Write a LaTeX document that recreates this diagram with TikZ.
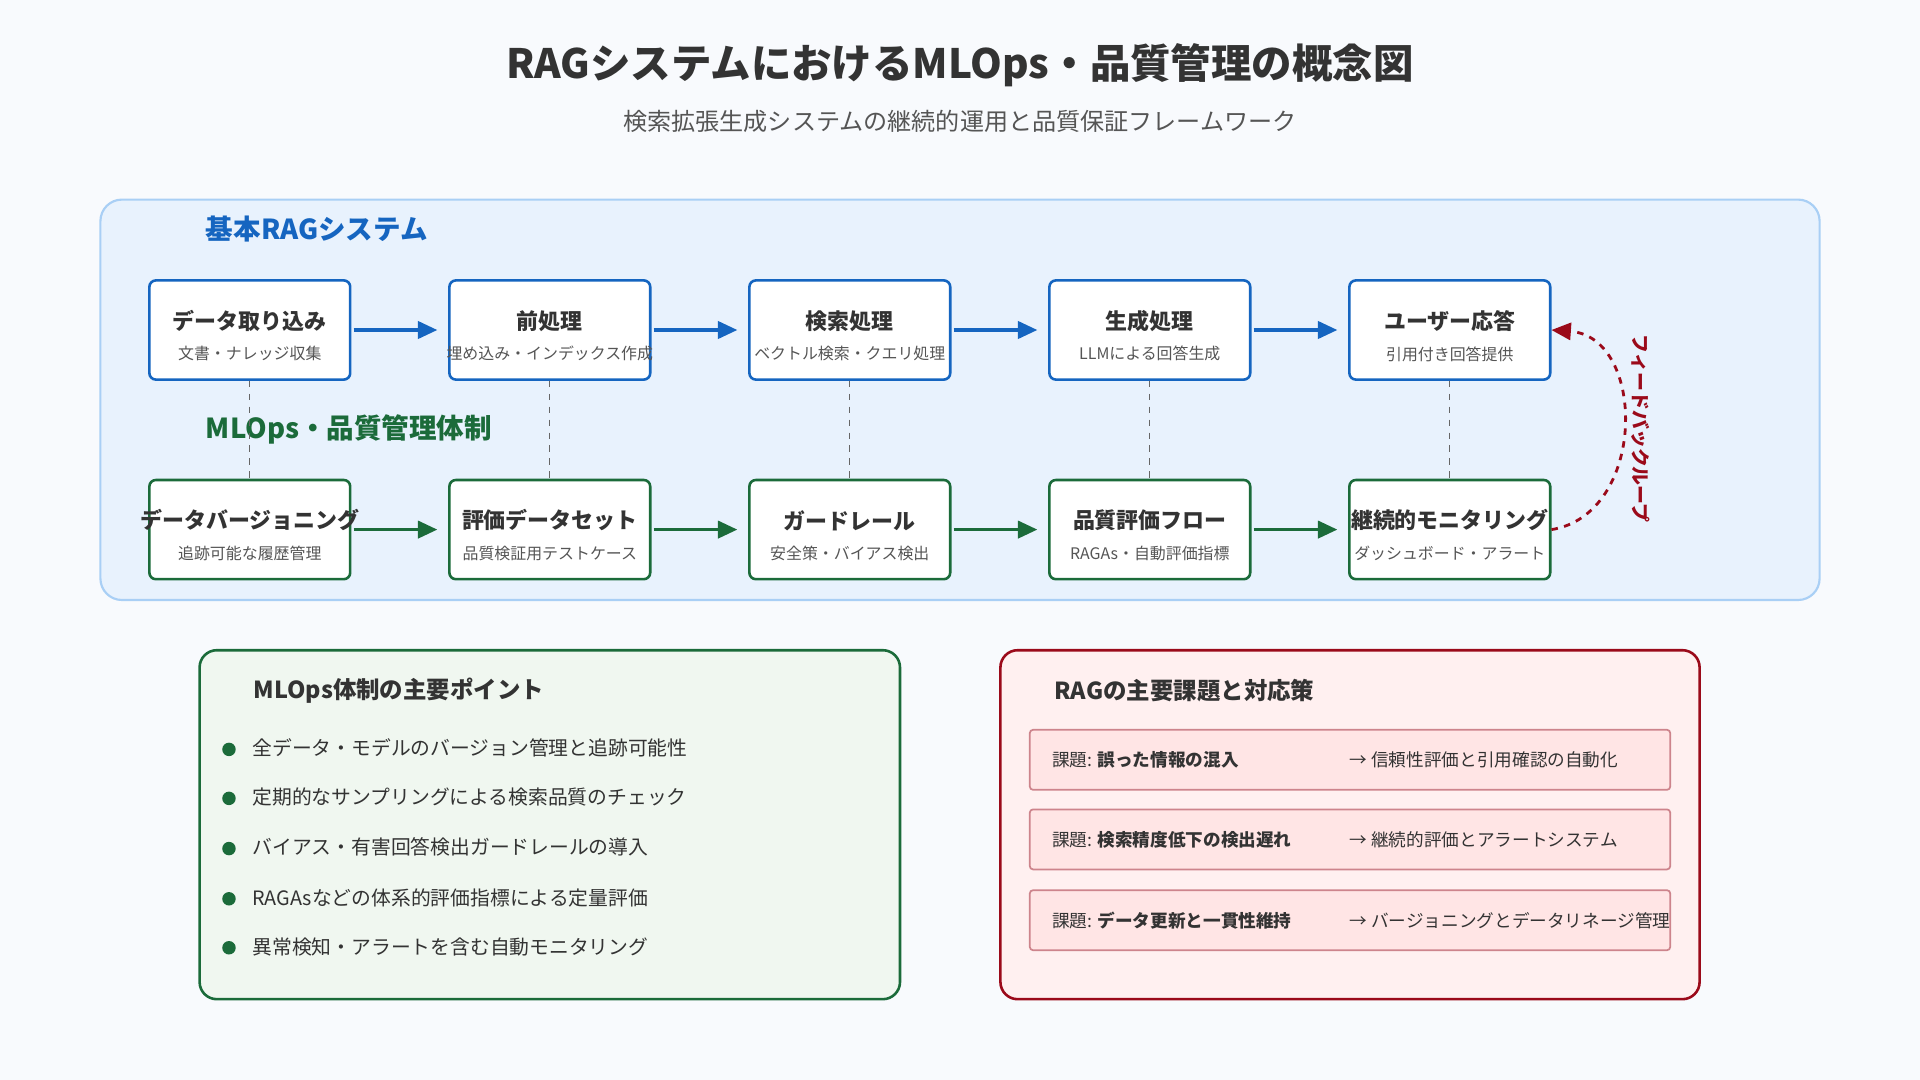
\documentclass[tikz,border=0pt]{standalone}
\usepackage{fontspec}
\setmainfont{Noto Sans CJK JP}
\usetikzlibrary{arrows.meta}
\definecolor{bblue}{HTML}{1565C0}
\definecolor{ggreen}{HTML}{1B6B3A}
\definecolor{rred}{HTML}{9B0A1A}
\definecolor{panel}{HTML}{E8F2FD}
\definecolor{panelb}{HTML}{A9CFF5}
\definecolor{txt}{HTML}{333333}
\definecolor{sub}{HTML}{555555}
\definecolor{bg}{HTML}{F8FAFD}
\definecolor{gfill}{HTML}{F0F7F0}
\definecolor{rfill}{HTML}{FFF0F0}
\begin{document}
\begin{tikzpicture}[x=0.02cm,y=-0.02cm,
 box/.style={draw=#1,line width=1.2pt,fill=white,rounded corners=3pt,minimum width=164*0.02cm,minimum height=81*0.02cm},
 bt/.style={font=\fontsize{10.2}{12}\selectfont\bfseries,text=txt},
 bs/.style={font=\fontsize{7.4}{9}\selectfont,text=sub},
 flow/.style={-{Triangle[length=9pt,width=8pt]},line width=1.5pt,draw=#1,shorten >=5pt,shorten <=1pt},
 vd/.style={dashed,draw=gray!80!black,line width=0.6pt},
 bul/.style={font=\fontsize{9.2}{11}\selectfont,text=txt,anchor=west},
 item/.style={draw=rred!50,fill=red!10,line width=0.8pt,rounded corners=1.5pt},
 it/.style={font=\fontsize{8.2}{10}\selectfont,text=txt,anchor=west}]
\fill[bg] (0,0) rectangle (1568,882);
\useasboundingbox (0,0) rectangle (1568,882);
\node[font=\fontsize{18.8}{22}\selectfont\bfseries,text=txt] (title) at (784,53) {RAGシステムにおけるMLOps・品質管理の概念図};
\node[font=\fontsize{11.2}{13}\selectfont,text=sub] (subt) at (784,99) {検索拡張生成システムの継続的運用と品質保証フレームワーク};
\draw[fill=panel,draw=panelb,line width=1pt,rounded corners=10pt] (82,163) rectangle (1486,490);
\node[anchor=west,font=\fontsize{12.8}{14}\selectfont\bfseries,text=bblue] (h1) at (162,187) {基本RAGシステム};
\node[anchor=west,font=\fontsize{12.8}{14}\selectfont\bfseries,text=ggreen] (h2) at (162,351) {MLOps・品質管理体制};
\foreach \n/\x/\a/\b in {t1/204/データ取り込み/文書・ナレッジ収集, t2/449/前処理/埋め込み・インデックス作成, t3/694/検索処理/ベクトル検索・クエリ処理, t4/939/生成処理/LLMによる回答生成, t5/1184/ユーザー応答/引用付き回答提供}{
 \node[box=bblue] (\n) at (\x,269.5) {};
 \node[bt] at (\x,262) {\a};
 \node[bs] at (\x,289) {\b};}
\foreach \n/\x/\a/\b in {b1/204/データバージョニング/追跡可能な履歴管理, b2/449/評価データセット/品質検証用テストケース, b3/694/ガードレール/安全策・バイアス検出, b4/939/品質評価フロー/RAGAs・自動評価指標, b5/1184/継続的モニタリング/ダッシュボード・アラート}{
 \node[box=ggreen] (\n) at (\x,432.5) {};
 \node[bt] at (\x,425) {\a};
 \node[bs] at (\x,452) {\b};}
\foreach \i/\j in {1/2,2/3,3/4,4/5}{
 \draw[flow=bblue] (t\i.east) -- (t\j.west);
 \draw[flow=ggreen] (b\i.east) -- (b\j.west);}
\foreach \i in {1,...,5}{\draw[vd] (t\i.south) -- (b\i.north);}
\draw[rred,dashed,line width=1.3pt,-{Triangle[length=9pt,width=8pt]}] (b5.east) .. controls (1345,420) and (1345,275) .. (t5.east);
\node[rotate=-90,font=\fontsize{8.8}{10}\selectfont\bfseries,text=rred] (fb) at (1340,350) {フィードバックループ};
\draw[fill=gfill,draw=ggreen,line width=1.2pt,rounded corners=8pt] (163,531) rectangle (735,816);
\node[anchor=west,font=\fontsize{10.9}{12}\selectfont\bfseries,text=txt] (g1) at (201,564) {MLOps体制の主要ポイント};
\foreach \y/\t in {611/全データ・モデルのバージョン管理と追跡可能性,651/定期的なサンプリングによる検索品質のチェック,692/バイアス・有害回答検出ガードレールの導入,733/RAGAsなどの体系的評価指標による定量評価,773/異常検知・アラートを含む自動モニタリング}{
 \fill[ggreen] (187,\y+1) circle (5.5);
 \node[bul] at (200,\y) {\t};}
\draw[fill=rfill,draw=rred,line width=1.2pt,rounded corners=8pt] (817,531) rectangle (1388,816);
\node[anchor=west,font=\fontsize{10.9}{12}\selectfont\bfseries,text=txt] (r1) at (855,564) {RAGの主要課題と対応策};
\foreach \y/\a/\b in {620.5/誤った情報の混入/信頼性評価と引用確認の自動化,685.5/検索精度低下の検出遅れ/継続的評価とアラートシステム,751.5/データ更新と一貫性維持/バージョニングとデータリネージ管理}{
 \draw[item] (841,\y-24.5) rectangle (1364,\y+24.5);
 \node[it] at (853,\y) {課題: \textbf{\a}};
 \node[it] at (1096,\y) {→ \b};}
\end{tikzpicture}
\end{document}
